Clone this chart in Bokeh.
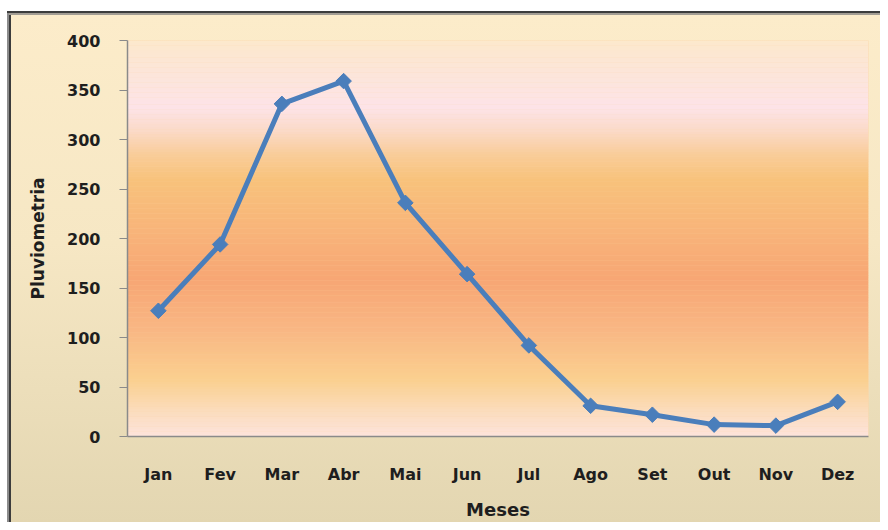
from bokeh.plotting import figure
from bokeh.models import FactorRange, Range1d, BoxAnnotation, FixedTicker, ColumnDataSource
from bokeh.embed import file_html
from bokeh.resources import INLINE
import numpy as np

months = ["Jan", "Fev", "Mar", "Abr", "Mai", "Jun", "Jul", "Ago", "Set", "Out", "Nov", "Dez"]
pluviometria = [127, 194, 336, 359, 236, 164, 92, 31, 22, 12, 11, 35]
y_ticks = [0, 50, 100, 150, 200, 250, 300, 350, 400]

FONT = "DejaVu Sans"
TXT = "#1e1e1e"

W, H = 880, 522
p = figure(
    width=W, height=H,
    x_range=FactorRange(factors=months),
    y_range=Range1d(0, 400),
    output_backend="svg", toolbar_location=None,
    min_border_left=127, min_border_right=12, min_border_top=40, min_border_bottom=86,
)
p.styles = {
    "background": (
        "linear-gradient(#3c3c3c,#3c3c3c) 7px 11px / 873px 2px no-repeat, "
        "linear-gradient(#a29d94,#a29d94) 9px 13px / 871px 2px no-repeat, "
        "linear-gradient(#8c8c8c,#8c8c8c) 7px 11px / 2px 511px no-repeat, "
        "linear-gradient(#3c3c3c,#3c3c3c) 9px 13px / 2px 509px no-repeat, "
        "linear-gradient(to bottom, #fcecca 0%, #f6e7c4 45%, #e3d6b1 100%) 11px 15px / 869px 507px no-repeat, "
        "#ffffff"
    ),
}
p.border_fill_color = None
p.outline_line_color = None
p.background_fill_color = "#fbd3a5"

# plot-area vertical gradient made of thin bands (style only)
stops = [
    (400, (0xfc, 0xe9, 0xcd)),
    (380, (0xfc, 0xe6, 0xd4)),
    (332, (0xfd, 0xe3, 0xe8)),
    (309, (0xfb, 0xda, 0xc8)),
    (284, (0xf9, 0xcc, 0x98)),
    (259, (0xf8, 0xc2, 0x7b)),
    (208, (0xf8, 0xb4, 0x7a)),
    (158, (0xf7, 0xa6, 0x74)),
    (107, (0xf9, 0xb7, 0x84)),
    (57, (0xfa, 0xd0, 0x8f)),
    (26, (0xfb, 0xdc, 0xbc)),
    (0, (0xfd, 0xe3, 0xdc)),
]
sv = np.array([s[0] for s in stops][::-1], dtype=float)
sc = np.array([s[1] for s in stops][::-1], dtype=float)
edges = np.linspace(0, 400, 161)
for b0, b1 in zip(edges[:-1], edges[1:]):
    mid = (b0 + b1) / 2
    c = [int(round(np.interp(mid, sv, sc[:, k]))) for k in range(3)]
    p.add_layout(BoxAnnotation(bottom=b0, top=b1 + 0.3, fill_color="#%02x%02x%02x" % tuple(c),
                               fill_alpha=1, line_color=None, level="underlay"))

src = ColumnDataSource(dict(m=months, v=pluviometria))
p.line("m", "v", source=src, line_color="#4a7ebb", line_width=5)
p.scatter("m", "v", source=src, marker="square", angle=np.pi / 4, size=11,
          fill_color="#4a7ebb", line_color="#4a7ebb")

p.xgrid.grid_line_color = None
p.ygrid.grid_line_color = None

p.yaxis.ticker = FixedTicker(ticks=y_ticks)
p.yaxis.minor_tick_line_color = None
p.yaxis.major_tick_out = 8
p.yaxis.major_tick_in = 0
p.yaxis.major_tick_line_color = "#8a8a8a"
p.yaxis.major_label_standoff = 19
p.yaxis.axis_label = "Pluviometria"
p.yaxis.axis_label_standoff = 16
p.yaxis.axis_label_text_font_size = "17px"

p.xaxis.major_tick_line_color = None
p.xaxis.major_tick_out = 0
p.xaxis.major_tick_in = 0
p.xaxis.major_label_standoff = 28
p.xaxis.axis_label = "Meses"
p.xaxis.axis_label_standoff = 12
p.xaxis.axis_label_text_font_size = "18px"

for ax in (p.xaxis, p.yaxis):
    ax.axis_line_color = "#8a8a8a"
    ax.axis_line_width = 1.5
    ax.major_label_text_font = FONT
    ax.major_label_text_font_style = "bold"
    ax.major_label_text_font_size = "16px"
    ax.major_label_text_color = TXT
    ax.axis_label_text_font = FONT
    ax.axis_label_text_font_style = "bold"
    ax.axis_label_text_color = TXT

open("out.html", "w").write(file_html(p, INLINE))
